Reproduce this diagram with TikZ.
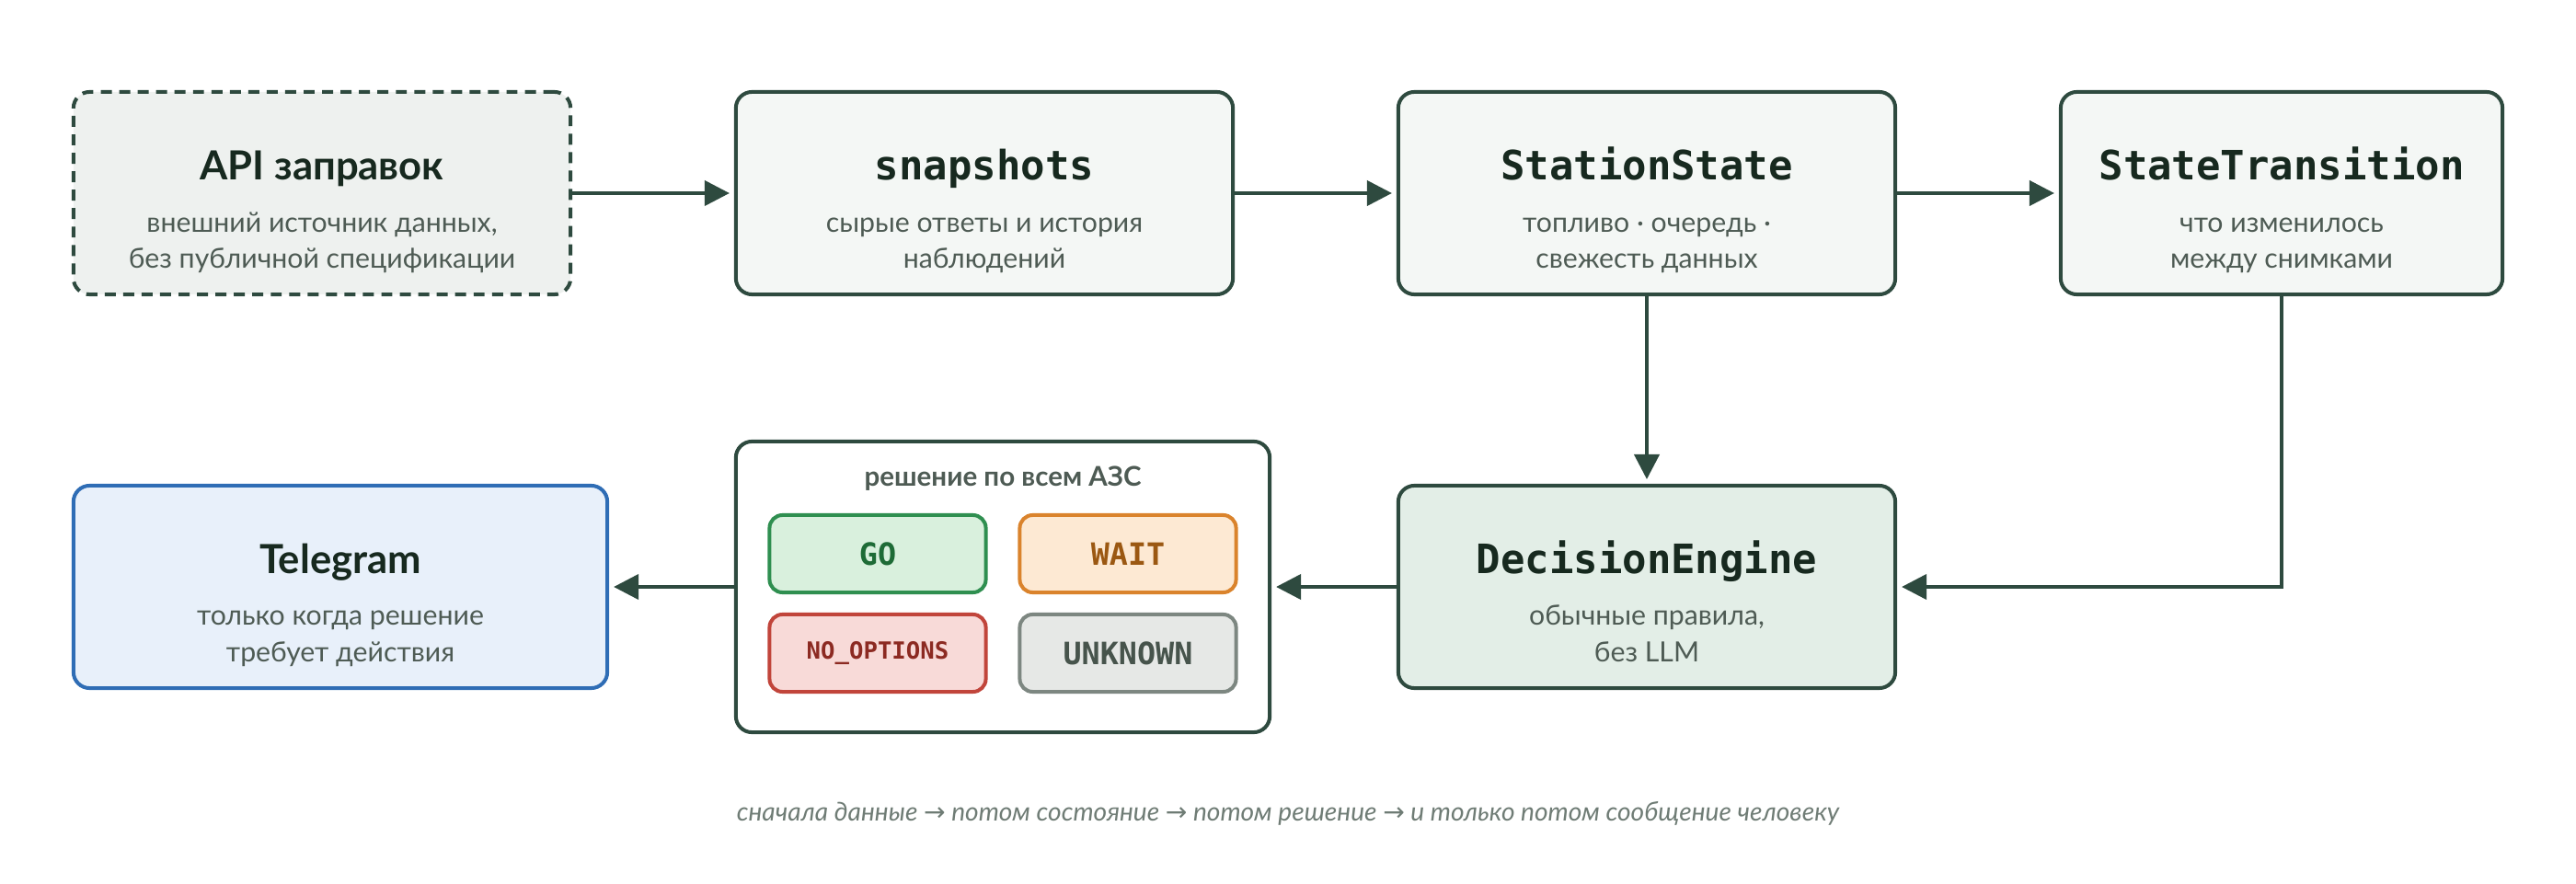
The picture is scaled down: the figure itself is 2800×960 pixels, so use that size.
\documentclass[tikz,border=0pt]{standalone}
\usepackage{fontspec}
\setmainfont{Lato}
\setmonofont{DejaVu Sans Mono}
\newfontfamily\arrowfont{DejaVu Sans}
\usetikzlibrary{arrows.meta,calc,positioning}
\definecolor{ink}{HTML}{2E4A3F}
\definecolor{titleink}{HTML}{17291F}
\definecolor{subink}{HTML}{4E5B54}
\definecolor{boxfill}{HTML}{F4F7F5}
\definecolor{apifill}{HTML}{EEF1EF}
\definecolor{enginefill}{HTML}{E3EEE7}
\definecolor{tgline}{HTML}{2F6DB5}
\definecolor{tgfill}{HTML}{E8F0FA}
\definecolor{goline}{HTML}{2F8F50}
\definecolor{gofill}{HTML}{D9F0DD}
\definecolor{goink}{HTML}{1E6B36}
\definecolor{waitline}{HTML}{DA832C}
\definecolor{waitfill}{HTML}{FDE9D3}
\definecolor{waitink}{HTML}{9B5812}
\definecolor{noline}{HTML}{C1453B}
\definecolor{nofill}{HTML}{F8DAD8}
\definecolor{noink}{HTML}{8C2A22}
\definecolor{unkline}{HTML}{7D8781}
\definecolor{unkfill}{HTML}{E6E8E6}
\definecolor{unkink}{HTML}{47544C}
\definecolor{noteink}{HTML}{6F7C75}
\tikzset{
    stage/.style={draw=ink, fill=boxfill, line width=1.14pt, rounded corners=5pt,
        minimum width=5.4cm, minimum height=2.2cm},
    source/.style={stage, fill=apifill, dash pattern=on 3.4pt off 2.3pt},
    engine/.style={stage, fill=enginefill},
    notify/.style={stage, draw=tgline, fill=tgfill, minimum width=5.8cm},
    group/.style={stage, fill=white, minimum width=5.8cm, minimum height=3.16cm},
    status/.style={line width=1.14pt, rounded corners=4pt, minimum width=2.35cm,
        minimum height=0.84cm, font=\ttfamily\bfseries\fontsize{9.5}{11}\selectfont},
    stagetitle/.style={anchor=base, text=titleink, font=\bfseries\fontsize{12.4}{14}\selectfont},
    codetitle/.style={anchor=base, text=titleink, font=\ttfamily\bfseries\fontsize{12.5}{14}\selectfont},
    stagenote/.style={anchor=base, align=center, text=subink, font=\fontsize{8.6}{11.1}\selectfont},
    flow/.style={draw=ink, line width=1.14pt, shorten >=1.4pt,
        -{Triangle[length=7.7pt, width=7.7pt]}},
}
\begin{document}
\begin{tikzpicture}[x=0.01cm, y=0.01cm]
    \useasboundingbox (0,0) rectangle (2800,960);
    % top row
    \node[source] (api) at (350,750) {};
    \node[stage] (snap) at (1070,750) {};
    \node[stage] (state) at (1790,750) {};
    \node[stage, minimum width=4.8cm] (trans) at (2480,750) {};
    % bottom row
    \node[notify] (tg) at (370,322) {};
    \node[group] (dec) at (1090,322) {};
    \node[engine] (eng) at (1790,322) {};

    \node[stagetitle] (apit) at ($(api.center)+(0,14)$) {API заправок};
        \node[stagenote] (apin) at ($(api.center)+(0,-82)$) {внешний источник данных,\\без публичной спецификации};
    \node[codetitle] (snapt) at ($(snap.center)+(0,14)$) {snapshots};
        \node[stagenote] (snapn) at ($(snap.center)+(0,-82)$) {сырые ответы и история\\наблюдений};
    \node[codetitle] (statet) at ($(state.center)+(0,14)$) {StationState};
        \node[stagenote] (staten) at ($(state.center)+(0,-82)$) {топливо · очередь ·\\свежесть данных};
    \node[codetitle] (transt) at ($(trans.center)+(0,14)$) {StateTransition};
        \node[stagenote] (transn) at ($(trans.center)+(0,-82)$) {что изменилось\\между снимками};
    \node[stagetitle] (tgt) at ($(tg.center)+(0,15)$) {Telegram};
        \node[stagenote] (tgn) at ($(tg.center)+(0,-81)$) {только когда решение\\требует действия};
    \node[codetitle] (engt) at ($(eng.center)+(0,15)$) {DecisionEngine};
        \node[stagenote] (engn) at ($(eng.center)+(0,-81)$) {обычные правила,\\без LLM};

    % decision grid
    \node[anchor=base, text=subink, font=\bfseries\fontsize{8.4}{10}\selectfont] (dech)
        at ($(dec.north)+(0,-51)$) {решение по всем АЗС};
    \node[status, draw=goline, fill=gofill, text=goink] (go) at (954,358) {GO};
    \node[status, draw=waitline, fill=waitfill, text=waitink] (wait) at (1226,358) {WAIT};
    \node[status, draw=noline, fill=nofill, text=noink,
        font=\ttfamily\bfseries\fontsize{7.3}{9}\selectfont] (noopt) at (954,250) {NO\_OPTIONS};
    \node[status, draw=unkline, fill=unkfill, text=unkink] (unk) at (1226,250) {UNKNOWN};

    % connectors
    \draw[flow] (api) -- (snap);
    \draw[flow] (snap) -- (state);
    \draw[flow] (state) -- (trans);
    \draw[flow] (state) -- (eng);
    \draw[flow] (trans.south) |- (eng.east);
    \draw[flow] (eng) -- (dec);
    \draw[flow] (dec) -- (tg);

    \node[anchor=base, text=noteink, font=\itshape\fontsize{8}{9}\selectfont] (note) at (1400,68)
        {сначала данные {\arrowfont →} потом состояние {\arrowfont →} потом решение {\arrowfont →} и только потом сообщение человеку};
\end{tikzpicture}
\end{document}
